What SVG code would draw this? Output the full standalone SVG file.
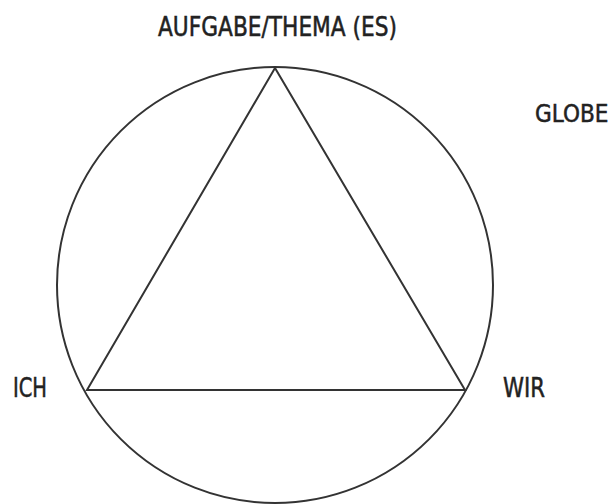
<svg xmlns="http://www.w3.org/2000/svg" width="613" height="504" viewBox="0 0 613 504">
<style>
.lbl{font-family:"DejaVu Sans Condensed","Liberation Sans Narrow","Liberation Sans",sans-serif;font-size:27px;fill:#222;stroke:#222;stroke-width:0.5;}
.ln{fill:none;stroke:#333;stroke-width:2;}
</style>
<rect width="613" height="504" fill="#fff"/>
<g id="globe-circle"><circle class="ln" cx="275" cy="285" r="218"/></g>
<g id="connectors">
<polygon class="ln" points="275,68 87,390 465,390" stroke-linejoin="miter"/>
</g>
<g id="node-es"><text class="lbl" x="158" y="36" textLength="239" lengthAdjust="spacingAndGlyphs">AUFGABE/THEMA (ES)</text></g>
<g id="node-globe"><text class="lbl" x="535" y="122" style="font-size:24px">GLOBE</text></g>
<g id="node-ich"><text class="lbl" x="13" y="397" textLength="34" lengthAdjust="spacingAndGlyphs">ICH</text></g>
<g id="node-wir"><text class="lbl" x="503" y="397" textLength="42" lengthAdjust="spacingAndGlyphs">WIR</text></g>
</svg>
